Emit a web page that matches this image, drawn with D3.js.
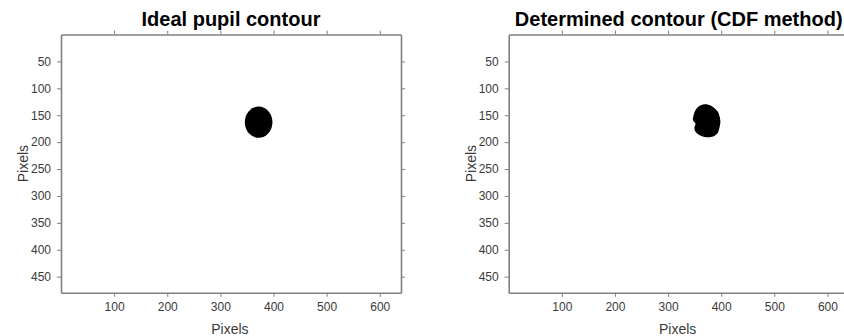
<!DOCTYPE html>
<html>
<head>
<meta charset="utf-8">
<script src="https://cdn.jsdelivr.net/npm/d3@7"></script>
<style>
  body { margin: 0; background: #fff; }
  svg { display: block; font-family: Arial, "Liberation Sans", sans-serif; }
</style>
</head>
<body>
<div id="chart"></div>
<script>
// image is 640 x 480 pixels
var xDomain = [0, 640];
var yDomain = [0, 480];
var xTicks = [100, 200, 300, 400, 500, 600];
var yTicks = [50, 100, 150, 200, 250, 300, 350, 400, 450];
var titles = ["Ideal pupil contour", "Determined contour (CDF method)"];

// ideal pupil: ellipse [cx, cy, rx, ry] in image pixels
var idealPupil = [372, 163, 26, 29];

// determined contour points [x, y] in image pixels
var cdfContourX = [370, 379, 387, 394, 397, 398.5, 397, 394, 387, 377, 366.5, 357, 351, 349.5, 351, 351.5, 348, 346.5, 347.5, 349.5, 354, 361.5];
var cdfContourY = [129.5, 131.5, 136.5, 144, 152.5, 162, 172, 182, 188.5, 191, 190, 186, 180, 173.5, 168.5, 165, 161, 157.5, 152.5, 145, 137, 131.5];

var svg = d3.select("#chart").append("svg")
    .attr("width", 844)
    .attr("height", 336);

var panels = [
    {left: 61, top: 34.5, width: 340, height: 258.3},
    {left: 508.7, top: 34.5, width: 340, height: 258.3}
];

var axisColor = "#808080",
    labelColor = "#3a3a3a";

function drawPanel(p, i) {
    var x = d3.scaleLinear().domain(xDomain).range([0, p.width]);
    var y = d3.scaleLinear().domain(yDomain).range([0, p.height]);

    var g = svg.append("g")
        .attr("transform", "translate(" + p.left + "," + p.top + ")");

    // data
    if (i == 0) {
        g.append("ellipse")
            .attr("cx", x(idealPupil[0]))
            .attr("cy", y(idealPupil[1]))
            .attr("rx", x(idealPupil[2]) - x(0))
            .attr("ry", y(idealPupil[3]) - y(0))
            .attr("fill", "#000");
    } else {
        var pts = cdfContourX.map((d, k) => [x(d), y(cdfContourY[k])]);
        g.append("path")
            .attr("d", d3.line().curve(d3.curveCardinalClosed.tension(0.3))(pts))
            .attr("fill", "#000");
    }

    // axes
    var bottom = d3.axisBottom(x).tickValues(xTicks).tickSize(4).tickSizeOuter(0).tickPadding(6);
    var top = d3.axisTop(x).tickValues(xTicks).tickSize(4).tickSizeOuter(0).tickFormat("");
    var left = d3.axisLeft(y).tickValues(yTicks).tickSize(4).tickSizeOuter(0).tickPadding(6);
    var right = d3.axisRight(y).tickValues(yTicks).tickSize(4).tickSizeOuter(0).tickFormat("");

    g.append("g").attr("transform", "translate(0," + p.height + ")").call(bottom);
    g.append("g").call(top);
    g.append("g").call(left);
    g.append("g").attr("transform", "translate(" + p.width + ",0)").call(right);

    g.selectAll(".domain").attr("stroke", axisColor).attr("stroke-width", 1.6);
    g.selectAll(".tick line").attr("stroke", axisColor).attr("stroke-width", 1);
    g.selectAll(".tick text")
        .attr("fill", labelColor)
        .style("font-size", "12px")
        .style("font-family", "Arial, 'Liberation Sans', sans-serif");

    // title
    g.append("text")
        .attr("x", p.width / 2)
        .attr("y", -8.5)
        .attr("text-anchor", "middle")
        .style("font-size", "20px")
        .style("font-weight", "bold")
        .attr("fill", "#000")
        .text(titles[i]);

    // axis labels
    g.append("text")
        .attr("x", x(318))
        .attr("y", p.height + 41.5)
        .attr("text-anchor", "middle")
        .style("font-size", "14px")
        .attr("fill", labelColor)
        .text("Pixels");

    g.append("text")
        .attr("transform", "translate(-33," + (p.height / 2) + ") rotate(-90)")
        .attr("text-anchor", "middle")
        .style("font-size", "14px")
        .attr("fill", labelColor)
        .text("Pixels");
}

panels.forEach(drawPanel);
</script>
</body>
</html>
